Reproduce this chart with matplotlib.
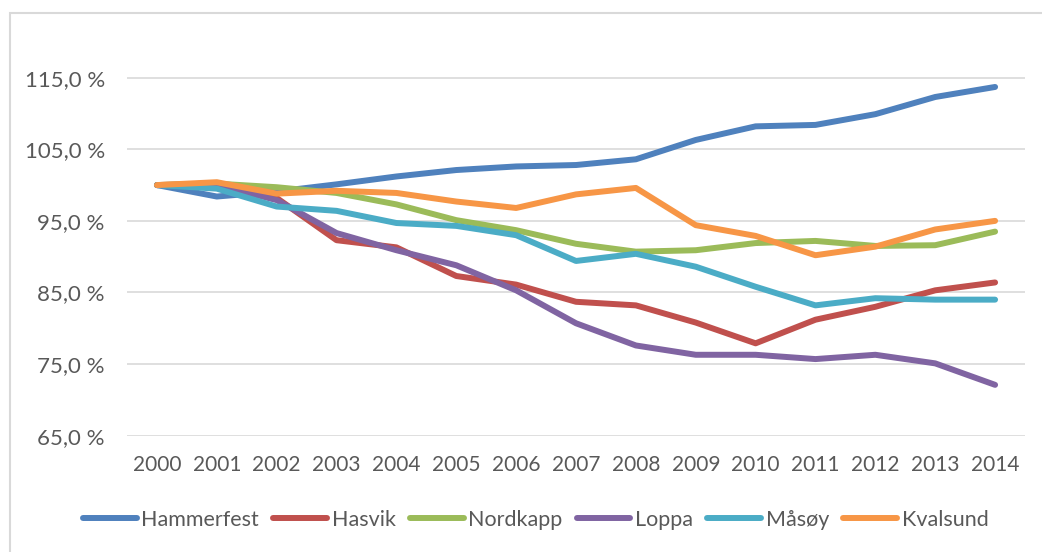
import matplotlib
matplotlib.use("Agg")
import matplotlib.pyplot as plt
from matplotlib.patches import Rectangle
from matplotlib.ticker import FuncFormatter

# data (index, 2000 = 100 %)
years = [str(y) for y in range(2000, 2015)]
hammerfest = [100.0, 98.4, 99.1, 100.1, 101.2, 102.1, 102.6, 102.8, 103.6, 106.3, 108.2, 108.4, 109.9, 112.3, 113.7]
hasvik = [100.0, 100.2, 98.2, 92.3, 91.3, 87.3, 86.1, 83.7, 83.2, 80.8, 77.9, 81.2, 83.0, 85.3, 86.4]
nordkapp = [100.0, 100.2, 99.7, 98.9, 97.3, 95.1, 93.7, 91.8, 90.7, 90.9, 91.9, 92.2, 91.5, 91.6, 93.5]
loppa = [100.0, 100.0, 97.9, 93.3, 90.9, 88.8, 85.3, 80.7, 77.6, 76.3, 76.3, 75.7, 76.3, 75.1, 72.1]
masoy = [100.0, 99.5, 97.0, 96.4, 94.7, 94.3, 93.0, 89.4, 90.4, 88.6, 85.8, 83.2, 84.2, 84.0, 84.0]
kvalsund = [100.0, 100.4, 98.8, 99.2, 98.9, 97.7, 96.8, 98.7, 99.6, 94.4, 92.9, 90.2, 91.4, 93.8, 95.0]

names = ["Hammerfest", "Hasvik", "Nordkapp", "Loppa", "Måsøy", "Kvalsund"]
series = [hammerfest, hasvik, nordkapp, loppa, masoy, kvalsund]
colors = ["#4F81BD", "#C0504D", "#9BBB59", "#8064A2", "#4BACC6", "#F79646"]
yticks = [65, 75, 85, 95, 105, 115]

plt.rcParams['font.family'] = ['Lato', 'DejaVu Sans']
text_col = "#595959"

fig = plt.figure(figsize=(10.42, 5.52), dpi=100)
ax = fig.add_axes([0.1219, 0.2107, 0.8618, 0.7524])

x = list(range(len(years)))
for vals, name, col in zip(series, names, colors):
    ax.plot(x, vals, color=col, lw=4.3, label=name, solid_capstyle='round', solid_joinstyle='round')

ax.set_xlim(-0.5, len(years) - 0.5)
ax.set_ylim(65, 123)
ax.set_xticks(x)
ax.set_xticklabels(years)
ax.set_yticks(yticks)
ax.yaxis.set_major_formatter(FuncFormatter(lambda v, p: f"{v:.1f}".replace(".", ",") + " %"))
ax.grid(axis='y', color="#D9D9D9", lw=1.2)
ax.set_axisbelow(True)
for s in ax.spines.values():
    s.set_visible(False)
ax.tick_params(axis='both', length=0, labelcolor=text_col)
ax.tick_params(axis='x', pad=14, labelsize=15)
ax.tick_params(axis='y', pad=16, labelsize=16)

leg = fig.legend(loc='center', bbox_to_anchor=(0.514, 0.058), ncol=6, frameon=False,
                 fontsize=15.5, handlelength=2.5, handletextpad=0.22, columnspacing=0.65)
for t in leg.get_texts():
    t.set_color(text_col)

# outer chart frame (only left and top edges visible in the crop)
fig.patches.append(Rectangle((10 / 1042, -0.1), 1.2, (552 - 13) / 552 + 0.1, transform=fig.transFigure,
                             fill=False, edgecolor="#D9D9D9", lw=1.5))

fig.savefig("out.png", dpi=100)
